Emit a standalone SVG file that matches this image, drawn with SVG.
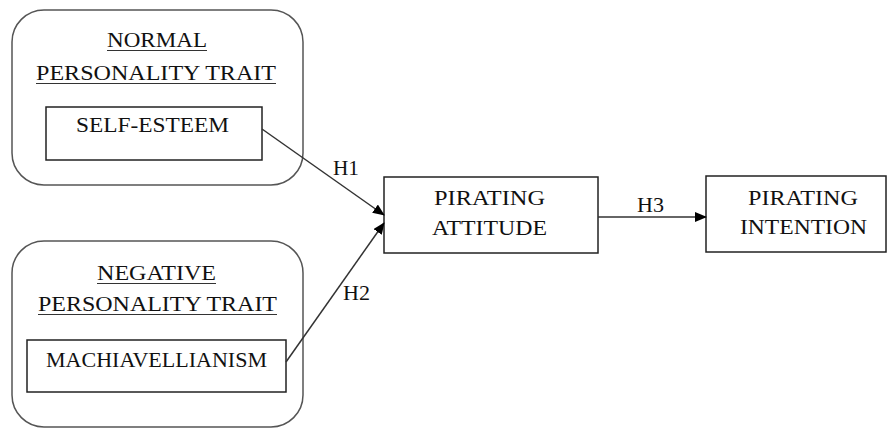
<svg xmlns="http://www.w3.org/2000/svg" width="889" height="428" viewBox="0 0 889 428">
<style>
.grp{fill:none;stroke:#555;stroke-width:1.5}
.box{fill:#fff;stroke:#222;stroke-width:1.5}
.t{font-family:"Liberation Serif","Times New Roman",serif;font-size:22px;fill:#111}
.ul{stroke:#333;stroke-width:1.2}
.con{stroke:#333;stroke-width:1.5;fill:none}
</style>
<defs>
<marker id="ah" markerWidth="12" markerHeight="10" refX="11" refY="5" orient="auto" markerUnits="userSpaceOnUse">
<path d="M0,0 L12,5 L0,10 Z" fill="#000"/>
</marker>
</defs>
<rect width="889" height="428" fill="#fff"/>
<g id="normal-trait">
<rect class="grp" x="12" y="10" width="291" height="175" rx="32" ry="32"/>
<text class="t" x="107" y="47" textLength="100" lengthAdjust="spacingAndGlyphs">NORMAL</text>
<line class="ul" x1="107" y1="50.5" x2="207" y2="50.5"/>
<text class="t" x="36" y="80" textLength="240" lengthAdjust="spacingAndGlyphs">PERSONALITY TRAIT</text>
<line class="ul" x1="36" y1="83.5" x2="276" y2="83.5"/>
</g>
<g id="self-esteem">
<rect class="box" x="46" y="107" width="216" height="53"/>
<text class="t" x="76" y="132" textLength="153" lengthAdjust="spacingAndGlyphs">SELF-ESTEEM</text>
</g>
<g id="negative-trait">
<rect class="grp" x="12" y="241" width="291" height="186" rx="32" ry="32"/>
<text class="t" x="97" y="280" textLength="119" lengthAdjust="spacingAndGlyphs">NEGATIVE</text>
<line class="ul" x1="97" y1="283.5" x2="216" y2="283.5"/>
<text class="t" x="38" y="311" textLength="239" lengthAdjust="spacingAndGlyphs">PERSONALITY TRAIT</text>
<line class="ul" x1="38" y1="314.5" x2="277" y2="314.5"/>
</g>
<g id="machiavellianism">
<rect class="box" x="27" y="340" width="259" height="52"/>
<text class="t" x="46" y="367" textLength="221" lengthAdjust="spacingAndGlyphs">MACHIAVELLIANISM</text>
</g>
<g id="pirating-attitude">
<rect class="box" x="384" y="177" width="214" height="76"/>
<text class="t" x="434" y="205" textLength="111" lengthAdjust="spacingAndGlyphs">PIRATING</text>
<text class="t" x="432" y="235" textLength="115" lengthAdjust="spacingAndGlyphs">ATTITUDE</text>
</g>
<g id="pirating-intention">
<rect class="box" x="706" y="176" width="180" height="76"/>
<text class="t" x="748" y="205" textLength="110" lengthAdjust="spacingAndGlyphs">PIRATING</text>
<text class="t" x="740" y="234" textLength="127" lengthAdjust="spacingAndGlyphs">INTENTION</text>
</g>
<g id="connectors">
<line class="con" x1="262" y1="129" x2="384" y2="215" marker-end="url(#ah)"/>
<line class="con" x1="286" y1="362" x2="384" y2="223" marker-end="url(#ah)"/>
<line class="con" x1="598" y1="217" x2="706" y2="217" marker-end="url(#ah)"/>
<text class="t" x="333" y="175" textLength="26" lengthAdjust="spacingAndGlyphs">H1</text>
<text class="t" x="343" y="300" textLength="27" lengthAdjust="spacingAndGlyphs">H2</text>
<text class="t" x="637" y="212" textLength="27" lengthAdjust="spacingAndGlyphs">H3</text>
</g>
</svg>
